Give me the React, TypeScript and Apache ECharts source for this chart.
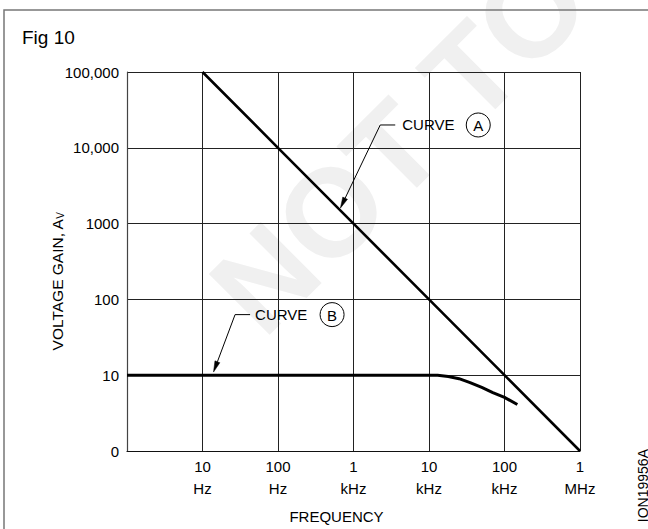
import React, { useEffect, useRef } from 'react';
import * as echarts from 'echarts';

// ---- data ----
const xTickValues = [1, 10, 100, 1000, 10000, 100000, 1000000];
const xTickLabels = ['', '10\nHz', '100\nHz', '1\nkHz', '10\nkHz', '100\nkHz', '1\nMHz'];
const yTickValues = [1, 10, 100, 1000, 10000, 100000];
const yTickLabels = ['0', '10', '100', '1000', '10,000', '100,000'];

const curveAFreq = [10, 100, 1000, 10000, 100000, 1000000];
const curveAGain = [100000, 10000, 1000, 100, 10, 1];

const curveBFreq = [1, 10, 100, 1000, 10000, 13000, 18000, 25000, 35000, 50000, 70000, 100000, 148000];
const curveBGain = [10, 10, 10, 10, 10, 9.95, 9.6, 9.0, 8.0, 6.9, 5.9, 5.1, 4.1];

// annotation anchors (data space): arrow tip on curve, leader knee
const annotA = { label: 'A', tip: [670, 1600], knee: [2260, 20000] };
const annotB = { label: 'B', tip: [14, 11], knee: [27, 63] };

const FONT = "'Liberation Sans', Arial, Helvetica, sans-serif";

function labelFor(values: number[], labels: string[], v: number) {
  const i = values.findIndex((t) => Math.abs(Math.log10(t) - Math.log10(v)) < 1e-6);
  return i >= 0 ? labels[i] : '';
}

export default function App() {
  const ref = useRef<HTMLDivElement>(null);

  useEffect(() => {
    if (!ref.current) return;
    const chart = echarts.init(ref.current, undefined, { renderer: 'svg' });

    const option: any = {
      animation: false,
      backgroundColor: '#ffffff',
      textStyle: { fontFamily: FONT },
      grid: { left: 127, top: 72, right: 68, bottom: 78, show: false },
      xAxis: {
        type: 'log',
        logBase: 10,
        min: 1,
        max: 1000000,
        splitNumber: 6,
        name: 'FREQUENCY',
        nameLocation: 'middle',
        nameGap: 58,
        nameMoveOverlap: false,
        nameTextStyle: { fontSize: 15, color: '#000', fontFamily: FONT, padding: [0, 34, 0, 0] },
        axisLine: { show: true, lineStyle: { color: '#111', width: 1.2 } },
        axisTick: { show: false },
        minorTick: { show: false },
        minorSplitLine: { show: false },
        axisLabel: {
          formatter: (v: number) => labelFor(xTickValues, xTickLabels, v),
          fontSize: 15,
          lineHeight: 22,
          color: '#000',
          margin: 4,
          fontFamily: FONT,
        },
        splitLine: { show: true, lineStyle: { color: '#222', width: 1 } },
      },
      yAxis: {
        type: 'log',
        logBase: 10,
        min: 1,
        max: 100000,
        splitNumber: 5,
        name: 'VOLTAGE GAIN, A{sub|V}',
        nameLocation: 'middle',
        nameGap: 62,
        nameMoveOverlap: false,
        nameTextStyle: {
          fontSize: 15.5,
          color: '#000',
          fontFamily: FONT,
          lineHeight: 16,
          padding: [0, 40, 0, 0],
          rich: {
            sub: { fontSize: 10, lineHeight: 4, verticalAlign: 'bottom', color: '#000', fontFamily: FONT },
          },
        },
        axisLine: { show: true, lineStyle: { color: '#444', width: 1.2 } },
        axisTick: { show: false },
        minorTick: { show: false },
        minorSplitLine: { show: false },
        axisLabel: {
          formatter: (v: number) => labelFor(yTickValues, yTickLabels, v),
          fontSize: 15,
          color: '#000',
          margin: 8,
          fontFamily: FONT,
        },
        splitLine: { show: true, lineStyle: { color: '#222', width: 1 } },
      },
      series: [
        {
          name: 'Curve A',
          type: 'line',
          data: curveAFreq.map((f, i) => [f, curveAGain[i]]),
          showSymbol: false,
          symbol: 'none',
          lineStyle: { color: '#000', width: 2.6 },
          z: 5,
        },
        {
          name: 'Curve B',
          type: 'line',
          data: curveBFreq.map((f, i) => [f, curveBGain[i]]),
          showSymbol: false,
          symbol: 'none',
          smooth: false,
          lineStyle: { color: '#000', width: 3, cap: 'butt', join: 'round' },
          z: 5,
        },
      ],
    };
    chart.setOption(option);

    const toPx = (p: number[]) => chart.convertToPixel({ gridIndex: 0 }, p) as number[];

    const annotation = (a: { label: string; tip: number[]; knee: number[] }, textDx: number, circleDx: number) => {
      const tip = toPx(a.tip);
      const knee = toPx(a.knee);
      const dx = tip[0] - knee[0];
      const dy = tip[1] - knee[1];
      const len = Math.hypot(dx, dy);
      const ux = dx / len;
      const uy = dy / len;
      const base = [tip[0] - ux * 11, tip[1] - uy * 11];
      const px = -uy * 2.6;
      const py = ux * 2.6;
      return [
        {
          type: 'polyline',
          shape: { points: [base, knee, [knee[0] + 15, knee[1]]] },
          style: { stroke: '#000', lineWidth: 1, fill: null },
          z: 10,
        },
        {
          type: 'polygon',
          shape: { points: [tip, [base[0] + px, base[1] + py], [base[0] - px, base[1] - py]] },
          style: { fill: '#000', stroke: '#000', lineWidth: 0.5 },
          z: 10,
        },
        {
          type: 'text',
          x: knee[0] + textDx,
          y: knee[1],
          style: { text: 'CURVE', fill: '#000', fontSize: 15, fontFamily: FONT, align: 'left', verticalAlign: 'middle' },
          z: 10,
        },
        {
          type: 'circle',
          shape: { cx: knee[0] + circleDx, cy: knee[1], r: 12 },
          style: { fill: '#fff', stroke: '#000', lineWidth: 1 },
          z: 10,
        },
        {
          type: 'text',
          x: knee[0] + circleDx,
          y: knee[1] + 0.5,
          style: { text: a.label, fill: '#000', fontSize: 15, fontFamily: FONT, align: 'center', verticalAlign: 'middle' },
          z: 11,
        },
      ];
    };

    chart.setOption({
      graphic: {
        elements: [
          {
            type: 'text',
            x: 399,
            y: 144,
            rotation: Math.PI / 4,
            style: {
              text: 'NOT TO',
              fill: '#f0f0f0',
              fontSize: 125,
              fontWeight: 'bold',
              fontFamily: FONT,
              align: 'center',
              verticalAlign: 'middle',
            },
            z: -10,
            silent: true,
          },
          {
            type: 'polyline',
            shape: { points: [[4, 529], [4, 10], [648, 10]] },
            style: { stroke: '#777', lineWidth: 1.5, fill: null },
          },
          {
            type: 'text',
            x: 22,
            y: 37,
            style: { text: 'Fig 10', fill: '#000', fontSize: 19, fontFamily: FONT, align: 'left', verticalAlign: 'middle' },
          },
          {
            type: 'text',
            x: 643,
            y: 449,
            rotation: Math.PI / 2,
            style: { text: 'ION19956A', fill: '#000', fontSize: 14, fontFamily: FONT, align: 'right', verticalAlign: 'middle' },
          },
          ...annotation(annotA, 22, 98),
          ...annotation(annotB, 20, 97),
        ],
      },
    });

    return () => {
      chart.dispose();
    };
  }, []);

  return (
    <div
      ref={ref}
      style={{ position: 'absolute', left: 0, top: 0, width: 648, height: 529, background: '#fff' }}
    />
  );
}
